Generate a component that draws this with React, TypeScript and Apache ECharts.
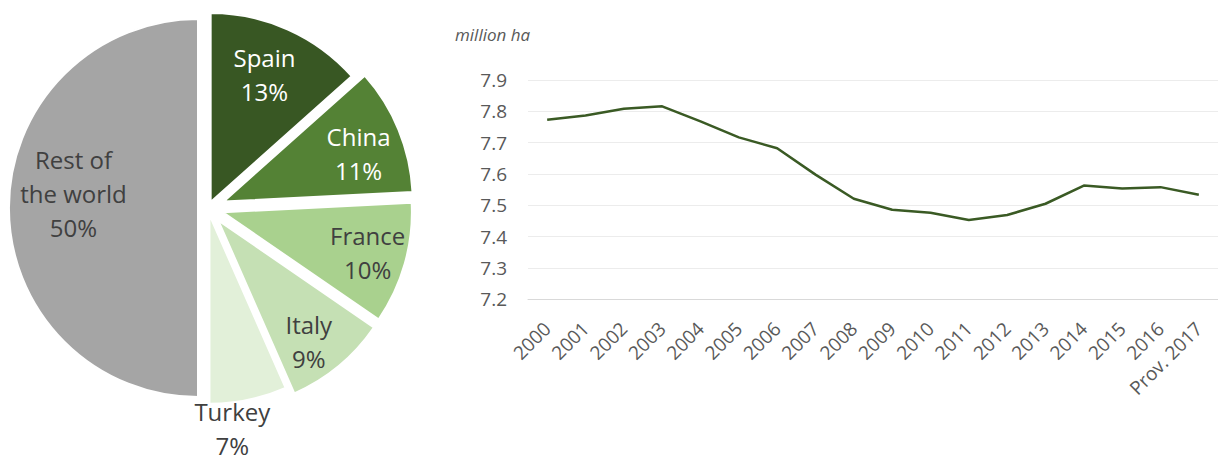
import React, { useEffect, useRef } from "react";
import * as echarts from "echarts";

// ---- data ----
const years = [
  "2000", "2001", "2002", "2003", "2004", "2005", "2006", "2007", "2008",
  "2009", "2010", "2011", "2012", "2013", "2014", "2015", "2016", "Prov. 2017",
];
const vineyardArea = [
  7.773, 7.787, 7.808, 7.816, 7.768, 7.717, 7.682, 7.598, 7.521,
  7.486, 7.476, 7.453, 7.469, 7.505, 7.563, 7.554, 7.558, 7.534,
];
const yMin = 7.2;
const yMax = 7.9;
const yStep = 0.1;

const pieNames = ["Spain", "China", "France", "Italy", "Turkey", "Rest of the world"];
const pieShares = [13.4, 10.8, 10.4, 8.8, 6.6, 50];

// ---- styles ----
const FONT = '"Open Sans", "Noto Sans", sans-serif';
const sliceColors = ["#385723", "#548235", "#a9d18e", "#c5e0b4", "#e2f0d9", "#a5a5a5"];
const labelColors = ["#ffffff", "#ffffff", "#404040", "#404040", "#404040", "#404040"];
const sliceExplode = [6.5, 17, 15.5, 16, 7, 10];
const labelNudge = [
  [-4, 2],
  [-3, 9],
  [0, -1],
  [-5, 6],
  [-22, 0],
  [4, -15],
];
const PIE_CENTER = [208, 208];
const PIE_RADIUS = 189;

function sliceSeries(k: number) {
  return {
    type: "pie",
    center: PIE_CENTER,
    radius: PIE_RADIUS,
    startAngle: 90,
    clockwise: true,
    selectedMode: "multiple",
    selectedOffset: sliceExplode[k],
    silent: true,
    emphasis: { disabled: true },
    label: { show: false },
    labelLine: { show: false },
    data: pieNames.map((name, i) => ({
      name,
      value: pieShares[i],
      selected: i === k,
      itemStyle:
        i === k
          ? { color: sliceColors[i], borderColor: "#ffffff", borderWidth: 2 }
          : { color: "rgba(0,0,0,0)", borderWidth: 0 },
    })),
  };
}

function labelRing(radius: number[], shown: number[]) {
  return {
    type: "pie",
    center: PIE_CENTER,
    radius,
    startAngle: 90,
    clockwise: true,
    silent: true,
    percentPrecision: 0,
    z: 5,
    itemStyle: { color: "rgba(0,0,0,0)", borderWidth: 0 },
    emphasis: { disabled: true },
    labelLine: { show: false },
    label: {
      position: "inside",
      formatter: (p: any) =>
        `${p.name === "Rest of the world" ? "Rest of\nthe world" : p.name}\n${p.percent}%`,
      fontFamily: FONT,
      fontSize: 24,
      lineHeight: 34,
    },
    labelLayout: (p: any) => ({
      dx: labelNudge[p.dataIndex][0],
      dy: labelNudge[p.dataIndex][1],
    }),
    data: pieNames.map((name, i) => ({
      name,
      value: pieShares[i],
      label: { show: shown.includes(i), color: labelColors[i] },
    })),
  };
}

export default function App() {
  const ref = useRef<HTMLDivElement>(null);

  useEffect(() => {
    if (!ref.current) return;
    const chart = echarts.init(ref.current, undefined, { renderer: "svg" });
    chart.setOption({
      animation: false,
      backgroundColor: "#ffffff",
      title: {
        text: "million ha",
        left: 450,
        top: 21,
        textStyle: {
          fontFamily: FONT,
          fontStyle: "italic",
          fontWeight: "normal",
          fontSize: 17,
          color: "#595959",
        },
      },
      grid: { left: 528, right: -4, top: 80, bottom: 158.7 },
      xAxis: {
        type: "category",
        data: years,
        boundaryGap: true,
        axisTick: { show: false },
        axisLine: { show: true, lineStyle: { color: "#d9d9d9", width: 1 } },
        axisLabel: {
          rotate: 45,
          interval: 0,
          margin: 26,
          fontFamily: FONT,
          fontSize: 19,
          color: "#595959",
        },
      },
      yAxis: {
        type: "value",
        min: yMin,
        max: yMax,
        interval: yStep,
        axisLine: { show: false },
        axisTick: { show: false },
        axisLabel: {
          formatter: (v: number) => v.toFixed(1),
          margin: 21,
          fontFamily: FONT,
          fontSize: 19,
          color: "#595959",
        },
        splitLine: { lineStyle: { color: "#ececec", width: 1 } },
      },
      series: [
        ...pieNames.map((_, k) => sliceSeries(k)),
        labelRing([110, 180], [0]),
        labelRing([140, 186], [1, 2, 3]),
        labelRing([84, 187], [5]),
        labelRing([200, 244], [4]),
        {
          type: "line",
          data: vineyardArea,
          symbol: "none",
          smooth: false,
          lineStyle: { color: "#3a5a24", width: 2.5 },
          itemStyle: { color: "#3a5a24" },
          z: 3,
        },
      ],
    });
    return () => chart.dispose();
  }, []);

  return (
    <div
      ref={ref}
      style={{ position: "absolute", left: 0, top: 0, width: 1218, height: 458 }}
    />
  );
}
